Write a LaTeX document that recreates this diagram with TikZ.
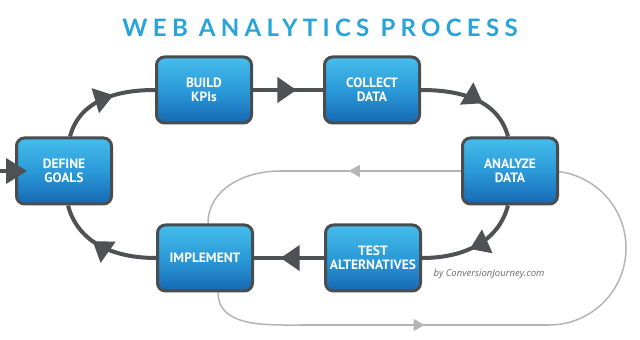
\documentclass[tikz,border=0pt]{standalone}
\usepackage{fontspec}
\setmainfont{PT Sans}
\newfontfamily\titlefont[LetterSpace=22]{Lato}
\newfontfamily\creditfont{Open Sans}
\usetikzlibrary{arrows.meta,decorations.markings,calc}
\pgfdeclarelayer{background}
\pgfsetlayers{background,main}
\definecolor{boxtop}{HTML}{45BDEB}
\definecolor{boxmid}{HTML}{2A9AD8}
\definecolor{boxbot}{HTML}{1769B3}
\definecolor{boxline}{HTML}{4A4D50}
\definecolor{conncol}{HTML}{505154}
\definecolor{loopcol}{HTML}{B5B5B5}
\definecolor{titlecol}{HTML}{27A4DA}
\definecolor{creditcol}{HTML}{6A6A6A}
\tikzset{
  stepbox/.style={draw=boxline, line width=3pt, rounded corners=8pt,
    top color=boxtop, bottom color=boxbot, middle color=boxmid,
    minimum width=95pt, minimum height=66pt, inner sep=0pt,
    text=white, align=center, font=\fontsize{13.5}{14}\selectfont\bfseries},
  conn/.style={draw=conncol, line width=4pt},
  loopline/.style={draw=loopcol, line width=1.5pt},
  midarrow/.style={postaction={decorate}, decoration={markings,
    mark=at position #1 with {\arrow[conncol]{Triangle[length=19pt,width=25pt]}}}},
  midgray/.style={postaction={decorate}, decoration={markings,
    mark=at position #1 with {\arrow[loopcol]{Triangle[length=11pt,width=12pt]}}}}
}
\begin{document}
\begin{tikzpicture}[x=1pt,y=1pt]
\useasboundingbox (0,0) rectangle (640,340);

\node[text=titlecol, font=\titlefont\bfseries\fontsize{24}{24}\selectfont] (title) at (320,312) {WEB ANALYTICS PROCESS};

\node[stepbox] (def) at (64,169) {DEFINE\\GOALS};
\node[stepbox] (build) at (204,250) {BUILD\\KPIs};
\node[stepbox] (collect) at (372,250) {COLLECT\\DATA};
\node[stepbox] (analyze) at (510,169) {ANALYZE\\DATA};
\node[stepbox] (impl) at (205,82) {IMPLEMENT};
\node[stepbox] (test) at (373,82) {TEST\\ALTERNATIVES};

\coordinate (lt1) at (280,169);
\coordinate (lb1) at (300,15);
\coordinate (lb2) at (549,15);
\coordinate (lin) at (0,169);

\begin{pgfonlayer}{background}
\fill[white] (0,0) rectangle (640,340);
% gray feedback loop
\path[loopline, midgray=0.62] (analyze.west) -- (lt1);
\path[loopline] (lt1) to[out=180,in=90] ($(impl.north)+(3,0)$);
\path[loopline] ($(impl.south)+(13,0)$) to[out=-90,in=180] (lb1);
\path[loopline, midgray=0.5] (lb1) -- (lb2);
\path[loopline] (lb2) arc[start angle=-90, end angle=90, radius=77] -- (analyze.east);

% main cycle connectors
\path[conn, midarrow=0.6] ($(def.north)+(6,0)$) to[out=75,in=180] (build.west);
\path[conn, midarrow=0.62] (build.east) -- (collect.west);
\path[conn, midarrow=0.6] (collect.east) to[out=0,in=105] ($(analyze.north)+(-2,0)$);
\path[conn, midarrow=0.55] ($(analyze.south)+(-2,0)$) to[out=-105,in=0] (test.east);
\path[conn, midarrow=0.62] (test.west) -- (impl.east);
\path[conn, midarrow=0.6] (impl.west) to[out=180,in=-75] ($(def.south)+(4,0)$);
\end{pgfonlayer}

\draw[conn, -{Triangle[length=21pt,width=25pt]}, shorten >=-12pt] (lin) -- (def.west);

\node[text=creditcol, font=\creditfont\itshape\fontsize{9.5}{10}\selectfont] (credit) at (489,66) {by ConversionJourney.com};
\end{tikzpicture}
\end{document}
